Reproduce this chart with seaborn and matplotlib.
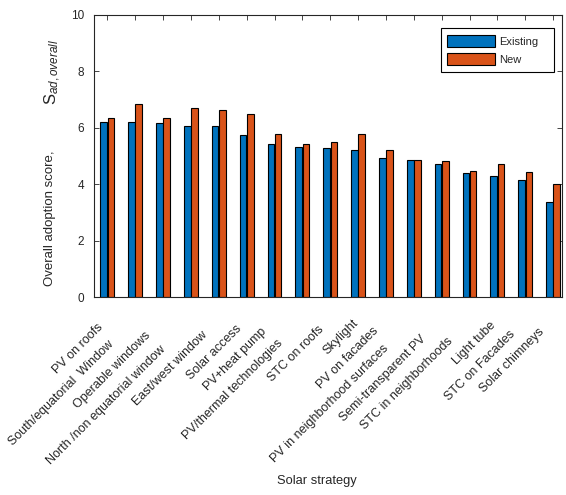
import matplotlib
matplotlib.use("Agg")
import matplotlib.pyplot as plt
import matplotlib.transforms as mtransforms
import pandas as pd
import seaborn as sns

# solar strategies, ranked by score for existing buildings
strategies = [
    "PV on roofs", "South/equatorial  Window", "Operable windows",
    "North /non equatorial window", "East/west window", "Solar access",
    "PV+heat pump", "PV/thermal technologies", "STC on roofs", "Skylight",
    "PV on facades", "PV in neighborhood surfaces", "Semi-transparent PV",
    "STC in neighborhoods", "Light tube", "STC on Facades", "Solar chimneys",
]
existing = [6.20, 6.19, 6.16, 6.07, 6.05, 5.74, 5.41, 5.30, 5.28, 5.21,
            4.94, 4.85, 4.72, 4.41, 4.30, 4.13, 3.37]
new = [6.35, 6.84, 6.36, 6.69, 6.63, 6.49, 5.79, 5.43, 5.51, 5.77,
       5.22, 4.87, 4.82, 4.46, 4.72, 4.43, 4.02]
groups = ["Existing", "New"]
colors = ["#0072BD", "#D95319"]
y_ticks = [0, 2, 4, 6, 8, 10]

df = pd.DataFrame({
    "strategy": strategies * 2,
    "score": existing + new,
    "building": [groups[0]] * len(strategies) + [groups[1]] * len(strategies),
})

sns.set_style("white")
plt.rcParams["font.family"] = ["Liberation Sans", "DejaVu Sans"]
plt.rcParams["mathtext.fontset"] = "custom"
plt.rcParams["mathtext.rm"] = "Liberation Sans"
plt.rcParams["mathtext.it"] = "Liberation Sans:italic"

dark = "#262626"
fig = plt.figure(figsize=(5.66, 4.95), dpi=100)
ax = fig.add_axes([0.166, 0.400, 0.827, 0.570])

sns.barplot(data=df, x="strategy", y="score", hue="building",
            order=strategies, hue_order=groups, palette=colors,
            width=0.52, gap=0.08, edgecolor="black", linewidth=0.8,
            saturation=1, ax=ax)

ax.set_ylim(0, 10)
ax.set_yticks(y_ticks)
ax.set_xlim(-0.48, len(strategies) - 1 + 0.32)

for sp in ax.spines.values():
    sp.set_color(dark)
    sp.set_linewidth(0.8)
ax.tick_params(direction="in", length=3.6, width=0.6, colors=dark,
               top=True, right=True, bottom=True, left=True)
ax.tick_params(axis="y", labelsize=8.5, pad=7)
ax.tick_params(axis="x", labelsize=9, pad=0)

# rotated strategy labels; longer names sit a bit lower/left, as in the original
ax.set_xticks(range(len(strategies)))
ax.set_xticklabels(strategies)
renderer = fig.canvas.get_renderer()
for tick in ax.xaxis.get_major_ticks():
    lab = tick.label1
    lab.set_rotation(45)
    lab.set_ha("right")
    lab.set_va("center")
    lab.set_rotation_mode("anchor")
    w, _, _ = renderer.get_text_width_height_descent(
        lab.get_text(), lab.get_fontproperties(), ismath=False)
    lab.set_transform(mtransforms.offset_copy(
        lab.get_transform(), fig, x=8.5 - 0.22 * w, y=-(14.5 + 0.22 * w),
        units="dots"))

ax.set_xlabel("Solar strategy", fontsize=9.3, color=dark)
ax.xaxis.set_label_coords(0.476, -0.631)

ax.set_ylabel("Overall adoption score,", fontsize=9.5, color=dark)
ax.yaxis.set_label_coords(-0.081, 0.278)
ax.text(-0.066, 0.796, "$\\mathrm{S}_{\\mathit{ad,overall}}$",
        transform=ax.transAxes, rotation=90, rotation_mode="anchor",
        ha="center", va="bottom", fontsize=12, color=dark)

handles, labels = ax.get_legend_handles_labels()
leg = ax.legend(handles, labels, loc="upper left", mode="expand",
                bbox_to_anchor=(0.741, 0.5, 0.241, 0.453), borderaxespad=0,
                fancybox=False, framealpha=1, edgecolor="black",
                fontsize=8, handlelength=4.3, handleheight=1.35,
                handletextpad=0.35, borderpad=0.6, labelspacing=0.5)
leg.get_frame().set_linewidth(0.8)

fig.savefig("out.png", dpi=100)
